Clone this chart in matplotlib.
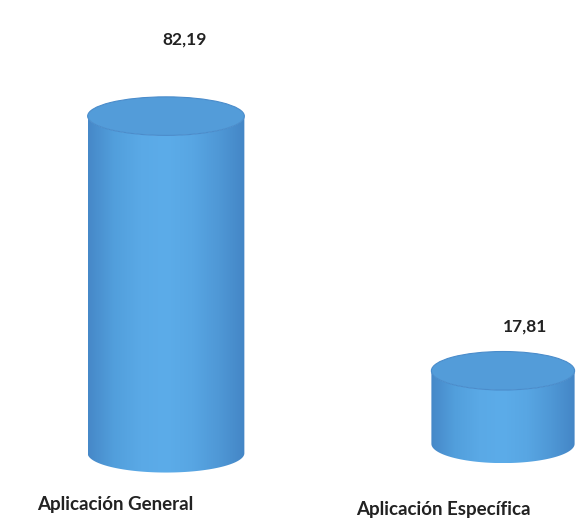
import numpy as np
import matplotlib.pyplot as plt
from matplotlib.patches import Polygon, Ellipse
from matplotlib.colors import LinearSegmentedColormap

categories = ['Aplicación General', 'Aplicación Específica']
values = [82.19, 17.81]
value_labels = ['82,19', '17,81']

plt.rcParams['font.family'] = ['Lato', 'DejaVu Sans']

fig = plt.figure(figsize=(5.77, 5.23), dpi=100)
ax = fig.add_axes([0, 0, 1, 1])
ax.set_xlim(-0.4926, 1.2196)
ax.set_ylim(-18.5, 109.0)
ax.axis('off')

widths = [0.465, 0.425]
bases = [-1.5, 0.8]   # slight perspective shift of the floor
eh = 9.4  # ellipse height in value units
cmap = LinearSegmentedColormap.from_list(
    'cyl', ['#4688c8', '#529fdc', '#5aa9e6', '#5cace9', '#58a6e3', '#4f98d6', '#4486c6'])

for i, v in enumerate(values):
    w = widths[i]
    b = bases[i]
    top_y = b + v
    x0, x1 = i - w / 2, i + w / 2
    t = np.linspace(np.pi, 2 * np.pi, 80)
    pts = [(x0, top_y)] + list(zip(i + w / 2 * np.cos(t), b + eh / 2 * np.sin(t))) + [(x1, top_y)]
    t2 = np.linspace(0, -np.pi, 80)
    pts += list(zip(i + w / 2 * np.cos(t2), top_y + eh / 2 * np.sin(t2)))
    body = Polygon(pts, closed=True, facecolor='none', edgecolor='none')
    ax.add_patch(body)
    grad = np.linspace(0, 1, 256).reshape(1, -1)
    im = ax.imshow(grad, cmap=cmap, aspect='auto',
                   extent=[x0, x1, b - eh / 2, top_y + eh / 2], zorder=2)
    im.set_clip_path(body)
    top = Ellipse((i, top_y), w, eh, facecolor='#539cd9', edgecolor='#4a8ccb',
                  linewidth=0.8, zorder=3)
    ax.add_patch(top)

label_offsets = [18.6, 10.9]
label_dx = [0.056, 0.065]
for i, v in enumerate(values):
    ax.text(i + label_dx[i], bases[i] + v + label_offsets[i], value_labels[i],
            ha='center', va='center', fontsize=12.5, fontweight='bold', color='#222222')

cat_x = [-0.151, 0.822]
cat_y = [-14.1, -15.3]
for i, c in enumerate(categories):
    ax.text(cat_x[i], cat_y[i], c, ha='center', va='center',
            fontsize=13.5, fontweight='bold', color='#222222')

fig.savefig('out.png', dpi=100, facecolor='white')
